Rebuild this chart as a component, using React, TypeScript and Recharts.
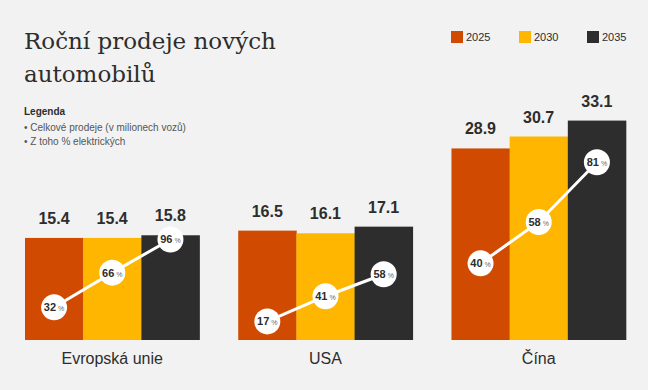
import React from 'react';
import { ComposedChart, Bar, Line, XAxis, YAxis, Cell, LabelList } from 'recharts';

const regions = ['Evropská unie', 'USA', 'Čína'];
const regionKeys = ['eu', 'usa', 'cn'];
const years = ['2025', '2030', '2035'];
const yearColors = ['#d04a02', '#ffb600', '#2d2d2d'];

// celkové prodeje v milionech, po letech
const salesEU = [15.4, 15.4, 15.8];
const salesUSA = [16.5, 16.1, 17.1];
const salesCN = [28.9, 30.7, 33.1];

// podíl elektrických v %
const evEU = [32, 66, 96];
const evUSA = [17, 41, 58];
const evCN = [40, 58, 81];

const GROUP_STEP = 3.665;
const FONT = '"Liberation Sans", Arial, Helvetica, sans-serif';
const INK = '#2d2d2d';

const sales = [salesEU, salesUSA, salesCN];
const evShare = [evEU, evUSA, evCN];

const data = regions.flatMap((r, i) =>
    years.map((y, j) => ({
        x: i * GROUP_STEP + j,
        year: j,
        total: sales[i][j],
        pct: evShare[i][j],
        [regionKeys[i]]: (sales[i][j] * evShare[i][j]) / 100,
    }))
);

const groupTicks = regions.map((_, i) => i * GROUP_STEP + 1);

// sloupce těsně vedle sebe, bez mezery
const FlushBar = (props: any) => {
    const { x, y, width, height, fill } = props;
    return <rect x={x} y={y} width={width + 0.5} height={height} fill={fill} />;
};

const PctDot = (props: any) => {
    const { cx, cy, payload, value, index } = props;
    if (value == null || cy == null || isNaN(cy)) return <g key={`e${index}`} />;
    return (
        <g key={`d${index}`}>
            <circle cx={cx} cy={cy} r={13} fill="#ffffff" />
            <text x={cx} y={cy + 4} textAnchor="middle" fontFamily={FONT} fill={INK}>
                <tspan fontSize={11} fontWeight="bold">{payload.pct}</tspan>
                <tspan fontSize={7} fill="#666" dx={2}>%</tspan>
            </text>
        </g>
    );
};

export default function App() {
    return (
        <div style={{ position: 'absolute', left: 0, top: 0, width: 648, height: 390, background: '#f2f2f2', overflow: 'hidden' }}>
            <div style={{ position: 'absolute', left: 24, top: 25, fontFamily: '"DejaVu Serif", serif', fontSize: 23, lineHeight: '33px', color: INK }}>
                Roční prodeje nových<br />automobilů
            </div>
            <div style={{ position: 'absolute', left: 24, top: 105, fontFamily: FONT, fontSize: 10, lineHeight: '14px', color: '#555' }}>
                <div style={{ fontWeight: 'bold', color: INK, marginBottom: 2 }}>Legenda</div>
                <div>• Celkové prodeje (v milionech vozů)</div>
                <div>• Z toho % elektrických</div>
            </div>
            {years.map((y, j) => (
                <div key={y} style={{ position: 'absolute', left: 451 + j * 68, top: 31, display: 'flex', alignItems: 'center', fontFamily: FONT, fontSize: 11, color: INK }}>
                    <span style={{ width: 12, height: 12, background: yearColors[j], display: 'inline-block', marginRight: 3 }} />
                    <span>{y}</span>
                </div>
            ))}
            <div style={{ position: 'absolute', left: 0, top: 0 }}>
                <ComposedChart width={648} height={390} data={data} margin={{ top: 108, right: 22, bottom: 20, left: 25 }}>
                    <XAxis
                        type="number"
                        dataKey="x"
                        domain={[-0.5, 2 * GROUP_STEP + 2.5]}
                        ticks={groupTicks}
                        interval={0}
                        tickFormatter={(v: number) => regions[Math.round((v - 1) / GROUP_STEP)]}
                        axisLine={false}
                        tickLine={false}
                        tickMargin={7}
                        height={30}
                        tick={{ fill: INK, fontSize: 16, fontFamily: FONT }}
                    />
                    <YAxis hide domain={[0, 35]} />
                    <Bar dataKey="total" barSize={58} shape={FlushBar} isAnimationActive={false}>
                        {data.map((d, i) => (
                            <Cell key={i} fill={yearColors[d.year]} />
                        ))}
                        <LabelList
                            dataKey="total"
                            position="top"
                            offset={14}
                            formatter={(v: any) => Number(v).toFixed(1)}
                            style={{ fill: INK, fontSize: 16, fontWeight: 'bold', fontFamily: FONT }}
                        />
                    </Bar>
                    {regionKeys.map((k) => (
                        <Line
                            key={k}
                            dataKey={k}
                            stroke="#ffffff"
                            strokeWidth={3}
                            dot={PctDot}
                            activeDot={false}
                            connectNulls={false}
                            isAnimationActive={false}
                        />
                    ))}
                </ComposedChart>
            </div>
        </div>
    );
}
